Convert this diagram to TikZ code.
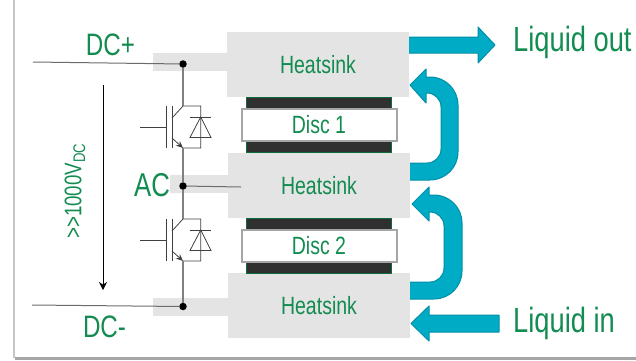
\documentclass[tikz,border=0pt]{standalone}
\usepackage{fontspec}
\usetikzlibrary{arrows.meta}
\setmainfont[FakeStretch=0.78]{Liberation Sans}
\definecolor{hsgray}{HTML}{E4E4E4}
\definecolor{labelgreen}{HTML}{128C50}
\definecolor{pipeblue}{HTML}{00ABC6}
\definecolor{pipeedge}{HTML}{008FA6}
\definecolor{discdark}{HTML}{303030}
\definecolor{discgreen}{HTML}{0E6B3C}
\tikzset{
  heatsink/.style={fill=hsgray, minimum width=182pt, minimum height=65pt, inner sep=0pt, text=labelgreen, font=\fontsize{25}{25}\selectfont},
  hstab/.style={fill=hsgray, minimum height=18pt, inner sep=0pt},
  discface/.style={fill=discdark, draw=discgreen, line width=1pt, minimum width=145pt, minimum height=55pt, inner sep=0pt},
  disc/.style={fill=white, draw=gray!70, line width=2pt, minimum width=155pt, minimum height=32pt, inner sep=0pt, text=labelgreen, font=\fontsize{25}{25}\selectfont},
  biglabel/.style={text=labelgreen, inner sep=0pt, font=\fontsize{35}{35}\selectfont},
  pipe/.style={fill=pipeblue, draw=pipeedge, line width=1pt, line join=round},
  dot/.style={circle, fill=black, minimum size=7.5pt, inner sep=0pt},
  wire/.style={draw=gray!85!black, line width=1pt},
  bus/.style={draw=gray, line width=1.4pt},
  thin wire/.style={draw=black!75, line width=0.8pt}
}
\begin{document}
\begin{tikzpicture}[x=1pt,y=-1pt]
\useasboundingbox (0,0) rectangle (636,360);

% page edge
\fill[gray!45] (13,0) rectangle (15,358);
\fill[gray!70] (15,357) rectangle (636,360);

% cooling arrows
\draw[pipe] (406,37) -- (478,37) -- (478,27) -- (495,45) -- (478,63) -- (478,53) -- (406,53) -- cycle;
\draw[pipe] (406,163) [rounded corners=14pt] -- (441,163) -- (441,93) [sharp corners] -- (426,93) -- (426,103) -- (410,85) -- (426,69) -- (426,77) [rounded corners=28pt] -- (458,77) -- (458,180) [sharp corners] -- (406,180) -- cycle;
\draw[pipe] (406,282) [rounded corners=14pt] -- (444,282) -- (444,212) [sharp corners] -- (429,212) -- (429,221) -- (412,204) -- (429,187) -- (429,195) [rounded corners=28pt] -- (462,195) -- (462,299) [sharp corners] -- (406,299) -- cycle;
\draw[pipe] (499,315) -- (429,315) -- (429,306) -- (411,323.5) -- (429,341) -- (429,332) -- (499,332) -- cycle;

% heatsinks
\node[hstab, minimum width=74pt] (tabtop) at (190,62) {};
\node[hstab, minimum width=58pt] (tabmid) at (199,184) {};
\node[hstab, minimum width=75pt] (tabbot) at (190.5,307) {};
\node[heatsink] (hstop) at (318,64.5) {Heatsink};
\node[heatsink] (hsmid) at (319,185.5) {Heatsink};
\node[heatsink] (hsbot) at (319,305.5) {Heatsink};

% discs
\node[discface] (faceone) at (318.5,125) {};
\node[disc] (discone) at (319,125) {Disc 1};
\node[discface] (facetwo) at (318.5,245.5) {};
\node[disc] (disctwo) at (319,246) {Disc 2};

% wires and bus
\node[dot] (dotplus) at (183,64) {};
\node[dot] (dotac) at (183,186) {};
\node[dot] (dotminus) at (183,306.5) {};
\coordinate (endplus) at (33,62);
\coordinate (endac) at (241,187);
\coordinate (endminus) at (32,305);
\draw[wire] (endplus) -- (dotplus);
\draw[wire] (dotac) -- (endac);
\draw[wire] (endminus) -- (dotminus);

% switches
\foreach \sw/\y/\from/\to in {a/0/dotplus/dotac, b/113/dotac/dotminus} {
  \begin{scope}[shift={(0,\y)}]
    \coordinate (col\sw) at (183,106);
    \coordinate (emi\sw) at (183,148);
    \coordinate (gate\sw) at (140,127);
    \coordinate (gbar\sw) at (166,127);
    \draw[thin wire] (gate\sw) -- (gbar\sw);
    \draw[thin wire] (166,106) -- (166,148);
    \draw[thin wire] (172,106) -- (172,148);
    \draw[thin wire] (172,118) -- (col\sw) -- (200.7,106) -- (200.7,148) -- (emi\sw);
    \draw[thin wire, -{Stealth[length=7pt,width=6pt]}] (172,138) -- (emi\sw);
    \draw[thin wire] (200.7,117) -- (211,137.5) -- (190,137.5) -- cycle;
    \draw[thin wire] (190,117) -- (211,117);
  \end{scope}
  \draw[bus] (\from) -- (col\sw);
  \draw[bus] (emi\sw) -- (\to);
}

% voltage
\coordinate (vtop) at (103,85);
\coordinate (vbot) at (103,290);
\draw[black, line width=0.8pt, -{Stealth[length=8pt,width=8pt]}] (vtop) -- (vbot);
\node[rotate=90, text=labelgreen, inner sep=0pt, font=\fontsize{24}{24}\selectfont] (vlabel) at (75,191) {{>}{>}1000V\textsubscript{DC}};

% labels
\node[biglabel, font=\fontsize{31}{31}\selectfont] (lbplus) at (110.5,45) {DC+};
\node[biglabel, font=\fontsize{31}{31}\selectfont] (lbminus) at (104.5,327) {DC-};
\node[biglabel, font=\fontsize{33}{33}\selectfont] (lbac) at (152,185) {AC};
\node[biglabel, anchor=west] (lbout) at (513,42) {Liquid out};
\node[biglabel, anchor=west] (lbin) at (513,323) {Liquid in};

\end{tikzpicture}
\end{document}
